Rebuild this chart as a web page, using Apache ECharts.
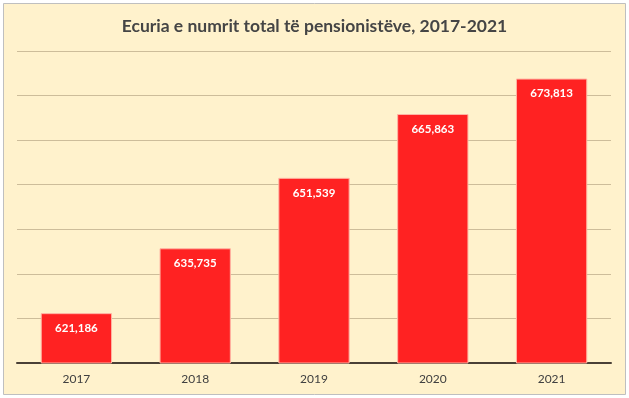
<!DOCTYPE html>
<html>
<head>
<meta charset="utf-8">
<script src="https://cdn.jsdelivr.net/npm/echarts@6/dist/echarts.min.js"></script>
<style>
html,body{margin:0;padding:0;background:#fff;}
#chart{width:629px;height:398px;}
</style>
</head>
<body>
<div id="chart"></div>
<script>
const titleText = 'Ecuria e numrit total të pensionistëve, 2017-2021';
const years = ['2017', '2018', '2019', '2020', '2021'];
const pensioners = [621186, 635735, 651539, 665863, 673813];

const chart = echarts.init(document.getElementById('chart'), null, {renderer: 'canvas'});
const fmt = v => v.toLocaleString('en-US');

chart.setOption({
  backgroundColor: '#ffffff',
  animation: false,
  graphic: [{
    type: 'rect',
    z: -10,
    silent: true,
    shape: {x: 3.5, y: 3.5, width: 622, height: 391},
    style: {fill: '#fff2cc', stroke: '#bfbfbf', lineWidth: 1}
  }],
  title: {
    text: titleText,
    left: 'center',
    top: 12,
    textStyle: {
      fontFamily: 'Lato',
      fontSize: 17.5,
      fontWeight: 'bold',
      color: '#454545'
    }
  },
  grid: {left: 17, right: 18, top: 51, bottom: 35, containLabel: false},
  xAxis: {
    type: 'category',
    data: years,
    axisLine: {lineStyle: {color: '#4a4036', width: 2}},
    axisTick: {show: false},
    axisLabel: {
      color: '#404040',
      fontFamily: 'Lato',
      fontSize: 12,
      margin: 10
    }
  },
  yAxis: {
    type: 'value',
    min: 610000,
    max: 680000,
    interval: 10000,
    axisLabel: {show: false},
    axisLine: {show: false},
    axisTick: {show: false},
    splitLine: {lineStyle: {color: '#cdbd9a', width: 1}}
  },
  series: [{
    type: 'bar',
    data: pensioners,
    barWidth: '60%',
    itemStyle: {
      color: '#ff2222',
      borderColor: '#ffb3a3',
      borderWidth: 1
    },
    label: {
      show: true,
      position: 'insideTop',
      distance: 9,
      color: '#ffffff',
      fontFamily: 'Lato',
      fontWeight: 'bold',
      fontSize: 11.5,
      formatter: p => fmt(p.value)
    }
  }]
});
</script>
</body>
</html>
